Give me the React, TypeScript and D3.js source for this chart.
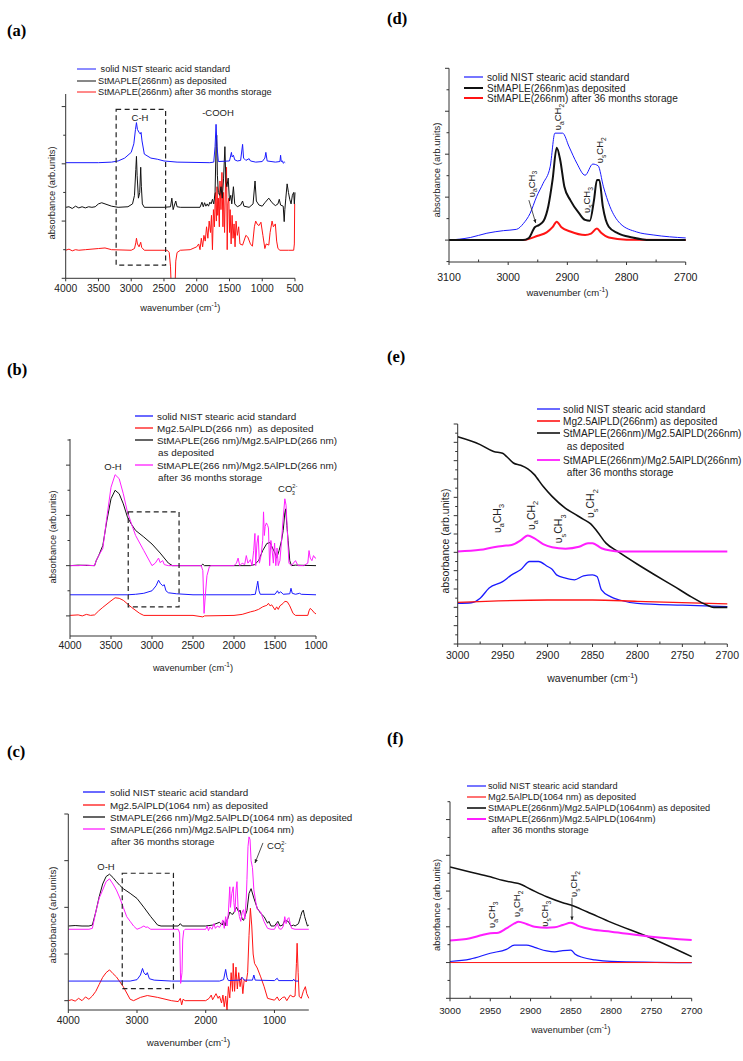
import * as d3 from 'd3';
import type { ReactNode } from 'react';

type Pt = [number, number];

const SANS = "'Liberation Sans', Arial, Helvetica, sans-serif";
const SERIF = "'Liberation Serif', 'Times New Roman', serif";
const BLUE = '#1a1aff';
const RED = '#ff1414';
const BLACK = '#111111';
const MAGENTA = '#ff1eff';

// ---------- panel (a): full range, StMAPLE 266 nm ----------
const aBlue: Pt[] = [
  [4000, 2.02], [3500, 2.02], [3300, 2.03], [3200, 2.05], [3100, 2.1], [3000, 2.2], [2960, 2.35],
  [2935, 2.6], [2920, 2.72], [2905, 2.6], [2880, 2.55], [2860, 2.52], [2850, 2.55], [2835, 2.4],
  [2800, 2.17], [2700, 2.1], [2600, 2.08], [2500, 2.05], [2300, 2.03], [1800, 2.02], [1740, 2.03],
  [1720, 2.3], [1705, 2.69], [1690, 2.3], [1670, 2.04], [1500, 2.05], [1470, 2.2], [1460, 2.12],
  [1440, 2.15], [1420, 2.07], [1380, 2.05], [1330, 2.06], [1300, 2.34], [1285, 2.1], [1250, 2.06],
  [1200, 2.09], [1180, 2.05], [1100, 2.03], [1000, 2.04], [960, 2.1], [945, 2.2], [925, 2.05],
  [800, 2.03], [730, 2.04], [720, 2.15], [710, 2.04], [690, 2.05], [680, 2.01], [660, 2.03], [650, 2.02],
];
const aBlack: Pt[] = [
  [4000, 1.24], [3950, 1.25], [3900, 1.22], [3850, 1.26], [3800, 1.23], [3750, 1.25], [3700, 1.23],
  [3650, 1.25], [3600, 1.24], [3550, 1.25], [3500, 1.3], [3450, 1.32], [3400, 1.3], [3300, 1.26],
  [3200, 1.24], [3050, 1.25], [2980, 1.3], [2950, 1.45], [2930, 1.9], [2920, 2.13], [2910, 1.8],
  [2890, 1.4], [2870, 1.5], [2855, 1.94], [2845, 1.6], [2830, 1.3], [2800, 1.24], [2500, 1.24],
  [2400, 1.25], [2380, 1.4], [2370, 1.3], [2360, 1.2], [2340, 1.28], [2320, 1.35], [2300, 1.25],
  [2250, 1.24], [1950, 1.24], [1920, 1.33], [1900, 1.25], [1880, 1.32], [1860, 1.26], [1840, 1.3],
  [1820, 1.26], [1800, 1.33], [1780, 1.3], [1760, 1.38], [1740, 1.3], [1720, 1.5], [1705, 2.3],
  [1695, 2.5], [1685, 1.8], [1670, 1.5], [1650, 1.45], [1630, 1.6], [1610, 1.4], [1590, 1.75],
  [1570, 2.3], [1555, 1.7], [1540, 1.6], [1520, 1.75], [1500, 1.35], [1480, 1.45], [1465, 1.3],
  [1440, 1.6], [1420, 1.3], [1380, 1.25], [1330, 1.28], [1300, 1.35], [1280, 1.26], [1200, 1.24],
  [1140, 1.3], [1110, 1.7], [1090, 1.35], [1050, 1.28], [1000, 1.26], [960, 1.32], [900, 1.4],
  [850, 1.32], [800, 1.27], [760, 1.3], [740, 1.38], [720, 1.28], [680, 1.26], [665, 0.99],
  [655, 1.2], [640, 1.4], [620, 1.65], [600, 1.5], [580, 1.38], [560, 1.3], [540, 1.45], [520, 1.5],
  [510, 1.3], [500, 1.5],
];
const aRed: Pt[] = [
  [4000, 0.49], [3950, 0.51], [3900, 0.48], [3850, 0.5], [3800, 0.49], [3700, 0.5], [3500, 0.52],
  [3400, 0.53], [3300, 0.5], [3000, 0.49], [2950, 0.52], [2930, 0.62], [2920, 0.7], [2905, 0.6],
  [2880, 0.55], [2855, 0.63], [2840, 0.54], [2800, 0.49], [2450, 0.49], [2420, 0.45], [2400, 0.2],
  [2385, -0.3], [2370, -0.5], [2350, -0.5], [2335, -0.3], [2320, 0.3], [2300, 0.45], [2250, 0.49],
  [2100, 0.5], [2000, 0.55], [1970, 0.6], [1950, 0.5], [1930, 0.7], [1910, 0.55], [1890, 0.75],
  [1870, 0.65], [1850, 0.9], [1830, 0.7], [1810, 1.0], [1790, 0.8], [1775, 1.1], [1760, 0.5],
  [1745, 1.2], [1730, 0.9], [1715, 1.5], [1700, 1.0], [1690, 1.6], [1680, 1.1], [1670, 1.4],
  [1655, 0.9], [1645, 1.7], [1630, 1.2], [1615, 1.85], [1600, 0.9], [1590, 1.5], [1575, 0.8],
  [1560, 1.7], [1545, 1.94], [1535, 0.5], [1525, 1.3], [1510, 1.4], [1500, 0.8], [1490, 1.2],
  [1475, 0.6], [1460, 1.1], [1445, 0.7], [1430, 0.95], [1415, 0.55], [1400, 1.0], [1380, 0.75],
  [1360, 0.9], [1340, 0.6], [1300, 0.58], [1250, 0.75], [1220, 0.72], [1180, 0.6], [1150, 0.56],
  [1120, 0.9], [1100, 1.0], [1080, 0.95], [1050, 0.92], [1020, 0.98], [990, 0.75], [960, 0.52],
  [940, 0.6], [900, 0.58], [880, 0.8], [850, 1.0], [830, 0.9], [800, 0.95], [780, 0.65],
  [760, 0.52], [730, 0.49], [600, 0.49], [520, 0.49], [510, 0.6], [505, 1.3], [500, 1.3],
];

// ---------- panel (b): full range, Mg2.5Al PLD 266 nm ----------
const bBlue: Pt[] = [
  [4000, 0.42], [3300, 0.42], [3200, 0.43], [3100, 0.45], [3000, 0.5], [2950, 0.6], [2920, 0.71],
  [2900, 0.65], [2870, 0.6], [2850, 0.62], [2830, 0.5], [2800, 0.46], [2700, 0.44], [2500, 0.42],
  [1800, 0.42], [1740, 0.43], [1720, 0.6], [1710, 0.69], [1695, 0.5], [1680, 0.43], [1500, 0.43],
  [1470, 0.5], [1455, 0.45], [1430, 0.48], [1400, 0.43], [1320, 0.44], [1305, 0.55], [1290, 0.45],
  [1250, 0.43], [1200, 0.45], [1180, 0.43], [1000, 0.42],
];
const bRed: Pt[] = [
  [4000, 0.01], [3900, 0.02], [3850, 0.0], [3800, 0.03], [3750, 0.01], [3700, 0.02], [3650, 0.1],
  [3600, 0.17], [3500, 0.3], [3450, 0.36], [3400, 0.35], [3350, 0.31], [3250, 0.17], [3150, 0.05],
  [3100, 0.01], [2500, 0.01], [2380, -0.02], [2360, 0.0], [2000, 0.01], [1900, 0.03], [1800, 0.08],
  [1750, 0.1], [1700, 0.13], [1650, 0.18], [1620, 0.2], [1600, 0.21], [1580, 0.25], [1560, 0.2],
  [1540, 0.22], [1500, 0.12], [1480, 0.18], [1460, 0.13], [1440, 0.2], [1400, 0.25], [1380, 0.29],
  [1350, 0.28], [1320, 0.2], [1280, 0.05], [1250, 0.01], [1100, 0.01], [1085, 0.1], [1070, 0.15],
  [1050, 0.12], [1020, 0.06], [1000, 0.04],
];
const bBlack: Pt[] = [
  [4000, 1.0], [3900, 1.01], [3700, 1.0], [3680, 1.1], [3650, 1.2], [3600, 1.4], [3550, 1.9],
  [3500, 2.33], [3450, 2.5], [3400, 2.43], [3350, 2.23], [3300, 1.97], [3250, 1.82], [3200, 1.7],
  [3100, 1.57], [3000, 1.43], [2900, 1.25], [2800, 1.05], [2750, 1.0], [2400, 1.0], [2380, 1.03],
  [2360, 1.0], [1800, 1.0], [1750, 1.02], [1700, 1.1], [1650, 1.3], [1600, 1.44], [1560, 1.46],
  [1530, 1.35], [1500, 1.25], [1480, 1.15], [1450, 1.3], [1420, 1.5], [1400, 1.7], [1380, 2.05],
  [1370, 2.13], [1355, 1.8], [1340, 1.5], [1320, 1.1], [1300, 1.0], [1250, 1.01], [1000, 1.0],
];
const bMagenta: Pt[] = [
  [4000, 1.0], [3900, 1.0], [3800, 1.01], [3700, 1.0], [3680, 1.1], [3650, 1.2], [3600, 1.34],
  [3550, 1.97], [3500, 2.56], [3450, 2.81], [3400, 2.73], [3350, 2.43], [3300, 2.07], [3250, 1.83],
  [3200, 1.6], [3100, 1.3], [3000, 1.0], [2960, 1.05], [2920, 1.15], [2900, 1.06], [2870, 1.1],
  [2850, 1.02], [2800, 1.0], [2400, 1.0], [2380, 0.9], [2365, 0.05], [2350, 0.4], [2330, 0.8],
  [2300, 0.98], [2280, 1.0], [2000, 1.0], [1970, 1.05], [1950, 1.15], [1930, 1.0], [1900, 1.05],
  [1870, 1.02], [1850, 1.2], [1830, 1.05], [1800, 1.12], [1780, 1.0], [1760, 1.3], [1745, 1.64],
  [1735, 1.0], [1720, 1.45], [1705, 1.6], [1690, 1.05], [1670, 1.2], [1650, 1.5], [1640, 2.07],
  [1630, 1.6], [1620, 1.78], [1605, 1.85], [1590, 1.8], [1580, 1.75], [1565, 1.0], [1550, 1.5],
  [1535, 1.3], [1520, 1.05], [1505, 1.45], [1490, 1.0], [1475, 1.35], [1460, 1.0], [1440, 1.1],
  [1420, 1.5], [1400, 1.95], [1380, 2.33], [1365, 2.2], [1350, 1.7], [1330, 1.05], [1300, 1.0],
  [1250, 1.1], [1220, 1.0], [1150, 1.0], [1100, 1.05], [1085, 1.3], [1070, 1.15], [1050, 1.1],
  [1030, 1.2], [1010, 1.15], [1000, 1.15],
];

// ---------- panel (c): full range, Mg2.5Al PLD 1064 nm ----------
const cBlue: Pt[] = [
  [4000, 0.42], [3100, 0.42], [3000, 0.45], [2950, 0.55], [2920, 0.69], [2900, 0.6], [2870, 0.55],
  [2850, 0.6], [2820, 0.47], [2750, 0.44], [2500, 0.42], [1800, 0.42], [1740, 0.45], [1710, 0.67],
  [1690, 0.5], [1670, 0.43], [1500, 0.44], [1470, 0.5], [1440, 0.44], [1320, 0.44], [1300, 0.55],
  [1280, 0.44], [1000, 0.43], [960, 0.48], [940, 0.43], [730, 0.43], [720, 0.46], [700, 0.42], [650, 0.42],
];
const cRed: Pt[] = [
  [4000, 0], [3950, 0.02], [3900, -0.01], [3850, 0.05], [3800, 0.0], [3750, 0.08], [3700, 0.03],
  [3650, 0.1], [3600, 0.2], [3550, 0.35], [3500, 0.5], [3450, 0.6], [3400, 0.66], [3350, 0.58],
  [3300, 0.51], [3200, 0.3], [3100, 0.03], [3050, 0.0], [2950, 0.07], [2850, 0.11], [2700, 0.07],
  [2500, 0.0], [2400, -0.02], [2370, 0.05], [2350, -0.09], [2330, 0.03], [2300, 0.0], [2000, 0.0],
  [1950, 0.05], [1920, 0.12], [1900, 0.02], [1850, 0.15], [1820, 0.05], [1800, 0.1], [1770, -0.05],
  [1750, 0.12], [1730, -0.13], [1710, 0.1], [1690, -0.2], [1670, 0.3], [1650, 0.06], [1630, 0.6],
  [1610, 0.2], [1600, 0.8], [1580, 0.2], [1560, 0.72], [1540, 0.25], [1520, 0.6], [1500, 0.3],
  [1480, 0.5], [1460, 0.15], [1440, 0.45], [1410, 0.4], [1390, 0.6], [1370, 1.4], [1350, 1.98],
  [1330, 1.6], [1310, 1.0], [1290, 0.8], [1250, 0.7], [1200, 0.51], [1150, 0.3], [1100, 0.05],
  [1000, 0.01], [960, 0.08], [930, 0.0], [880, 0.07], [850, 0.08], [820, 0.0], [770, 0.12],
  [730, 0.08], [700, 0.1], [680, 0.8], [670, 1.23], [655, 0.6], [640, 0.09], [610, 0.05],
  [580, 0.2], [550, 0.3], [530, 0.15], [500, 0.05],
];
const cBlack: Pt[] = [
  [4000, 1.6], [3900, 1.61], [3800, 1.6], [3700, 1.6], [3650, 1.62], [3600, 1.9], [3550, 2.23],
  [3500, 2.5], [3450, 2.66], [3400, 2.71], [3350, 2.64], [3300, 2.55], [3250, 2.47], [3200, 2.4],
  [3100, 2.3], [3000, 2.19], [2900, 2.0], [2800, 1.8], [2700, 1.62], [2650, 1.6], [2400, 1.6],
  [2370, 1.65], [2340, 1.6], [2000, 1.6], [1900, 1.62], [1800, 1.68], [1760, 1.62], [1740, 1.7],
  [1720, 1.6], [1700, 1.72], [1680, 1.75], [1650, 1.9], [1620, 1.85], [1600, 1.86], [1570, 1.95],
  [1550, 2.0], [1520, 1.9], [1500, 1.94], [1470, 1.75], [1450, 1.72], [1420, 1.85], [1400, 1.93],
  [1370, 2.3], [1340, 2.4], [1300, 2.2], [1250, 1.98], [1200, 1.87], [1150, 1.8], [1100, 1.66],
  [1080, 1.7], [1050, 1.6], [1000, 1.6], [950, 1.7], [920, 1.6], [880, 1.62], [850, 1.72],
  [800, 1.7], [760, 1.6], [720, 1.62], [700, 1.6], [650, 1.65], [620, 1.8], [600, 1.9], [580, 1.94],
  [560, 1.8], [540, 1.7], [520, 1.6], [500, 1.62],
];
const cMagenta: Pt[] = [
  [4000, 1.53], [3700, 1.53], [3650, 1.55], [3600, 1.9], [3550, 2.2], [3500, 2.37], [3450, 2.55],
  [3400, 2.61], [3350, 2.5], [3300, 2.37], [3250, 2.2], [3200, 2.0], [3150, 1.8], [3100, 1.7],
  [3050, 1.6], [3000, 1.53], [2950, 1.56], [2900, 1.6], [2870, 1.57], [2850, 1.58], [2800, 1.53],
  [2400, 1.53], [2380, 1.45], [2365, 0.37], [2345, 0.6], [2335, 1.3], [2320, 1.5], [2300, 1.53],
  [2000, 1.53], [1980, 1.6], [1960, 1.5], [1940, 1.58], [1910, 1.53], [1880, 1.65], [1860, 1.55],
  [1830, 1.6], [1800, 1.57], [1770, 1.65], [1750, 1.73], [1730, 1.55], [1710, 1.8], [1690, 1.6],
  [1670, 1.9], [1650, 2.44], [1640, 2.0], [1620, 2.3], [1600, 2.44], [1590, 2.1], [1575, 1.9],
  [1560, 2.35], [1545, 2.55], [1530, 2.0], [1510, 1.8], [1490, 1.7], [1470, 1.9], [1450, 1.95],
  [1430, 1.75], [1410, 2.2], [1400, 2.6], [1385, 3.3], [1370, 3.51], [1355, 3.45], [1340, 3.0],
  [1320, 2.85], [1300, 2.38], [1270, 2.1], [1250, 1.96], [1200, 1.9], [1150, 1.69], [1100, 1.55],
  [1050, 1.53], [1000, 1.53], [960, 1.65], [930, 1.54], [900, 1.53], [870, 1.6], [850, 1.8],
  [830, 1.65], [810, 1.75], [790, 1.78], [770, 1.65], [750, 1.55], [700, 1.53], [500, 1.53],
];

// ---------- panel (d): C-H region, StMAPLE 266 nm ----------
const dBlue: Pt[] = [
  [3100, 0], [3064, 0.06], [3036, 0.16], [3008, 0.22], [2986, 0.25], [2974, 0.39], [2963, 0.62],
  [2952, 1.01], [2941, 1.32], [2929, 1.71], [2921, 2.49], [2908, 2.49], [2897, 2.17], [2884, 1.79],
  [2870, 1.51], [2857, 1.77], [2848, 1.73], [2839, 1.24], [2828, 0.78], [2811, 0.39], [2783, 0.19],
  [2755, 0.12], [2700, 0.05],
];
const dBlack: Pt[] = [
  [3100, 0], [2975, 0], [2965, 0.05], [2955, 0.3], [2948, 0.35], [2940, 0.45], [2932, 0.8],
  [2925, 1.4], [2918, 2.15], [2912, 1.86], [2905, 1.24], [2895, 0.93], [2880, 0.62], [2870, 0.47],
  [2862, 0.45], [2855, 0.93], [2850, 1.4], [2846, 1.4], [2840, 0.78], [2830, 0.31], [2815, 0.16],
  [2790, 0.06], [2760, 0], [2700, 0],
];
const dRed: Pt[] = [
  [3100, 0], [2975, 0], [2950, 0.1], [2935, 0.18], [2925, 0.3], [2918, 0.43], [2910, 0.3],
  [2895, 0.2], [2870, 0.12], [2860, 0.15], [2850, 0.27], [2843, 0.17], [2830, 0.06], [2800, 0.01],
  [2700, 0],
];

// ---------- panel (e): C-H region, PLD 266 nm ----------
const eBlue: Pt[] = [
  [3000, 4.44], [2985, 4.5], [2975, 5.0], [2965, 6.1], [2950, 6.8], [2940, 7.54], [2930, 8.1],
  [2920, 9.0], [2910, 9.0], [2900, 8.45], [2895, 8.16], [2890, 7.54], [2880, 7.18], [2870, 7.0],
  [2860, 7.43], [2850, 7.54], [2845, 7.36], [2840, 5.9], [2830, 5.17], [2820, 4.8], [2800, 4.44],
  [2750, 4.23], [2700, 4.08],
];
const eRed: Pt[] = [[3000, 4.55], [2900, 4.8], [2850, 4.8], [2800, 4.66], [2700, 4.37]];
const eBlack: Pt[] = [
  [3000, 22.6], [2975, 21.75], [2960, 21.0], [2950, 20.8], [2945, 20.4], [2938, 19.75], [2930, 19.5],
  [2922, 19.1], [2915, 18.5], [2905, 17.2], [2895, 16.1], [2880, 14.8], [2870, 14.2], [2860, 13.6],
  [2852, 13.1], [2845, 12.3], [2835, 11.0], [2822, 10.1], [2800, 8.7], [2780, 7.5], [2760, 6.34],
  [2740, 5.14], [2723, 4.26], [2715, 4.0], [2700, 4.0],
];
const eMagenta: Pt[] = [
  [3000, 10.1], [2975, 10.27], [2960, 10.56], [2950, 10.7], [2940, 10.8], [2930, 11.3], [2922, 11.84],
  [2915, 11.55], [2905, 10.9], [2895, 10.56], [2880, 10.4], [2865, 10.6], [2855, 11.0], [2850, 11.0],
  [2840, 10.45], [2830, 10.2], [2820, 10.1], [2700, 10.1],
];

// ---------- panel (f): C-H region, PLD 1064 nm ----------
const fBlue: Pt[] = [
  [3000, 0.06], [2975, 0.19], [2950, 0.52], [2930, 0.74], [2920, 0.98], [2905, 0.98], [2895, 0.85],
  [2880, 0.65], [2870, 0.6], [2860, 0.67], [2850, 0.7], [2845, 0.48], [2835, 0.28], [2820, 0.15],
  [2800, 0.07], [2700, 0],
];
const fRed: Pt[] = [[3000, 0], [2700, 0]];
const fBlack: Pt[] = [
  [3000, 5.35], [2975, 5.07], [2950, 4.8], [2935, 4.6], [2920, 4.46], [2915, 4.42], [2900, 4.1],
  [2880, 3.68], [2860, 3.35], [2850, 3.22], [2830, 2.84], [2800, 2.25], [2750, 1.36], [2700, 0.33],
];
const fMagenta: Pt[] = [
  [3000, 1.23], [2975, 1.36], [2960, 1.54], [2950, 1.64], [2940, 1.67], [2930, 1.91], [2920, 2.19],
  [2915, 2.29], [2905, 2.16], [2895, 2.0], [2880, 1.95], [2870, 1.97], [2860, 2.1], [2850, 2.23],
  [2840, 2.04], [2825, 1.86], [2800, 1.73], [2750, 1.45], [2700, 1.26],
];

// ---------- ticks ----------
const ticksFull500 = [4000, 3500, 3000, 2500, 2000, 1500, 1000, 500];
const ticksB = [4000, 3500, 3000, 2500, 2000, 1500, 1000];
const ticksC = [4000, 3000, 2000, 1000];
const ticksD = [3100, 3000, 2900, 2800, 2700];
const minorD = [3050, 2950, 2850, 2750];
const ticksEF = [3000, 2950, 2900, 2850, 2800, 2750, 2700];
const minorEF = [2975, 2925, 2875, 2825, 2775, 2725];

// ---------- legend texts ----------
const legendA = ['solid NIST stearic acid standard', 'StMAPLE(266nm) as deposited', 'StMAPLE(266nm) after 36 months storage'];
const legendB = ['solid NIST stearic acid standard', 'Mg2.5AlPLD(266 nm)  as deposited', 'StMAPLE(266 nm)/Mg2.5AlPLD(266 nm)', 'as deposited', 'StMAPLE(266 nm)/Mg2.5AlPLD(266 nm)', 'after 36 months storage'];
const legendC = ['solid NIST stearic acid standard', 'Mg2.5AlPLD(1064 nm) as deposited', 'StMAPLE(266 nm)/Mg2.5AlPLD(1064 nm) as deposited', 'StMAPLE(266 nm)/Mg2.5AlPLD(1064 nm)', 'after 36 months storage'];
const legendD = ['solid NIST stearic acid standard', 'StMAPLE(266nm)as deposited', 'StMAPLE(266nm) after 36 months storage'];
const legendE = ['solid NIST stearic acid standard', 'Mg2.5AlPLD(266nm) as deposited', 'StMAPLE(266nm)/Mg2.5AlPLD(266nm)', ' as deposited', 'StMAPLE(266nm)/Mg2.5AlPLD(266nm)', ' after 36 months storage'];
const legendF = ['solid NIST stearic acid standard', 'Mg2.5AlPLD(1064 nm) as deposited', 'StMAPLE(266nm)/Mg2.5AlPLD(1064nm) as deposited', 'StMAPLE(266nm)/Mg2.5AlPLD(1064nm)', ' after 36 months storage'];

interface Series { data: Pt[]; color: string; width: number; smooth?: boolean }
interface LegendRow { text: string; color?: string; width?: number }
type Sc = d3.ScaleLinear<number, number>;

interface PanelProps {
  tag: string;
  tagXY: [number, number];
  box: [number, number, number, number]; // left, right, top, bottom
  xDomain: [number, number];
  yDomain: [number, number];
  xTicks: number[];
  xMinor?: number[];
  yMajor: number[];
  yMinor?: number[];
  series: Series[];
  legend: { x0: number; x1: number; tx: number; ys: number[]; size: number; rows: LegendRow[] };
  tickSize: number;
  tickLabelY: number;
  labelSize: number;
  xLabelY: number;
  yLabelXY: [number, number];
  dashed?: [number, number, number, number];
  extra?: (x: Sc, y: Sc) => ReactNode;
}

function Panel(p: PanelProps) {
  const [l, r, t, b] = p.box;
  const x = d3.scaleLinear().domain(p.xDomain).range([l, r]);
  const y = d3.scaleLinear().domain(p.yDomain).range([b, t]);
  const clipId = `clip-${p.tag}`;
  const path = (s: Series) =>
    d3
      .line<Pt>()
      .x((d) => x(d[0]))
      .y((d) => y(d[1]))
      .curve(s.smooth ? d3.curveMonotoneX : d3.curveLinear)(s.data) || '';

  return (
    <g>
      <text x={p.tagXY[0]} y={p.tagXY[1]} fontFamily={SERIF} fontSize={16.5} fontWeight="bold">
        ({p.tag})
      </text>
      <defs>
        <clipPath id={clipId}>
          <rect x={l} y={t - 2} width={r - l + 1} height={b - t + 2} />
        </clipPath>
      </defs>

      {/* spectra */}
      <g clipPath={`url(#${clipId})`} fill="none" strokeLinejoin="round">
        {p.series.map((s, i) => (
          <path key={i} d={path(s)} stroke={s.color} strokeWidth={s.width} />
        ))}
      </g>

      {p.dashed && (
        <rect
          x={x(p.dashed[0])}
          y={y(p.dashed[2])}
          width={x(p.dashed[1]) - x(p.dashed[0])}
          height={y(p.dashed[3]) - y(p.dashed[2])}
          fill="none"
          stroke="#222"
          strokeWidth={1.2}
          strokeDasharray="5,3.5"
        />
      )}

      {/* axes */}
      <g stroke="#333" strokeWidth={1}>
        <line x1={l} x2={l} y1={t} y2={b} />
        <line x1={l} x2={r} y1={b} y2={b} />
        {p.yMajor.map((v) => (
          <line key={`ym${v}`} x1={l - 4} x2={l} y1={y(v)} y2={y(v)} />
        ))}
        {(p.yMinor || []).map((v) => (
          <line key={`yn${v}`} x1={l - 2.5} x2={l} y1={y(v)} y2={y(v)} />
        ))}
        {p.xTicks.map((v) => (
          <line key={`xm${v}`} x1={x(v)} x2={x(v)} y1={b} y2={b + 3} />
        ))}
        {(p.xMinor || []).map((v) => (
          <line key={`xn${v}`} x1={x(v)} x2={x(v)} y1={b} y2={b - 2.5} />
        ))}
      </g>
      <g fontFamily={SANS} fontSize={p.tickSize} fill="#222" textAnchor="middle">
        {p.xTicks.map((v) => (
          <text key={v} x={x(v)} y={p.tickLabelY}>
            {v}
          </text>
        ))}
      </g>
      <text x={(l + r) / 2} y={p.xLabelY} fontFamily={SANS} fontSize={p.labelSize} fill="#222" textAnchor="middle">
        wavenumber (cm
        <tspan dy={-p.labelSize * 0.4} fontSize={p.labelSize * 0.7}>
          -1
        </tspan>
        <tspan dy={p.labelSize * 0.4}>)</tspan>
      </text>
      <text
        transform={`translate(${p.yLabelXY[0]},${p.yLabelXY[1]}) rotate(-90)`}
        fontFamily={SANS}
        fontSize={p.labelSize}
        fill="#222"
        textAnchor="middle"
      >
        absorbance (arb.units)
      </text>

      {/* legend */}
      <g fontFamily={SANS} fontSize={p.legend.size} fill="#222">
        {p.legend.rows.map((row, i) => (
          <g key={i}>
            {row.color && (
              <line
                x1={p.legend.x0}
                x2={p.legend.x1}
                y1={p.legend.ys[i]}
                y2={p.legend.ys[i]}
                stroke={row.color}
                strokeWidth={row.width || 1}
              />
            )}
            <text x={p.legend.tx + (row.color ? 0 : 1)} y={p.legend.ys[i] + p.legend.size * 0.36} style={{ whiteSpace: 'pre' }}>
              {row.text}
            </text>
          </g>
        ))}
      </g>
      {p.extra && p.extra(x, y)}
    </g>
  );
}

// rotated vibration-mode label: υ_a CH_2 etc.
function Mode({ x, y, m, n, size }: { x: number; y: number; m: string; n: string; size: number }) {
  return (
    <text transform={`translate(${x},${y}) rotate(-90)`} fontFamily={SANS} fontSize={size} fill="#222">
      υ
      <tspan dy={size * 0.3} fontSize={size * 0.7}>
        {m}
      </tspan>
      <tspan dy={-size * 0.3}>CH</tspan>
      <tspan dy={size * 0.3} fontSize={size * 0.7}>
        {n}
      </tspan>
    </text>
  );
}

function Carbonate({ x, y, size }: { x: number; y: number; size: number }) {
  return (
    <text x={x} y={y} fontFamily={SANS} fontSize={size} fill="#222">
      CO
      <tspan dy={-size * 0.45} fontSize={size * 0.6}>
        2-
      </tspan>
      <tspan dx={-size * 0.6} dy={size * 0.75} fontSize={size * 0.6}>
        3
      </tspan>
    </text>
  );
}

const arrowHead = (
  <defs>
    <marker id="arr" viewBox="0 0 10 10" refX="9" refY="5" markerWidth="5" markerHeight="5" orient="auto">
      <path d="M0,1 L10,5 L0,9 z" fill="#222" />
    </marker>
  </defs>
);

export default function App() {
  return (
    <svg width={743} height={1061} style={{ position: 'absolute', left: 0, top: 0, background: '#fff' }}>
      {arrowHead}
      <Panel
        tag="a"
        tagXY={[7, 36]}
        box={[65.7, 295, 94, 278.3]}
        xDomain={[4000, 500]}
        yDomain={[0, 3.22]}
        xTicks={ticksFull500}
        yMajor={[0, 1, 2, 3]}
        yMinor={[0.5, 1.5, 2.5]}
        series={[
          { data: aRed, color: RED, width: 1 },
          { data: aBlack, color: BLACK, width: 1 },
          { data: aBlue, color: BLUE, width: 1 },
        ]}
        legend={{
          x0: 77, x1: 96, tx: 98, ys: [69, 81, 92], size: 9.2,
          rows: [
            { text: ' ' + legendA[0], color: BLUE },
            { text: legendA[1], color: BLACK },
            { text: legendA[2], color: RED },
          ],
        }}
        tickSize={10.3}
        tickLabelY={292}
        labelSize={9.3}
        xLabelY={311}
        yLabelXY={[55, 193]}
        dashed={[3230, 2475, 2.95, 0.23]}
        extra={(x, y) => (
          <g fontFamily={SANS} fontSize={9.5} fill="#222" textAnchor="middle">
            <text x={x(2866)} y={y(2.75)}>C-H</text>
            <text x={x(1675)} y={y(2.84)}>-COOH</text>
          </g>
        )}
      />
      <Panel
        tag="b"
        tagXY={[7, 375]}
        box={[70, 316, 439, 636]}
        xDomain={[4000, 1000]}
        yDomain={[-0.4, 3.52]}
        xTicks={ticksB}
        yMajor={[0, 1, 2, 3]}
        yMinor={[0.5, 1.5, 2.5, 3.5]}
        series={[
          { data: bRed, color: RED, width: 1 },
          { data: bBlue, color: BLUE, width: 1 },
          { data: bBlack, color: BLACK, width: 1 },
          { data: bMagenta, color: MAGENTA, width: 1 },
        ]}
        legend={{
          x0: 135, x1: 153, tx: 157, ys: [416, 428, 440, 452, 465, 477], size: 9.9,
          rows: [
            { text: legendB[0], color: BLUE, width: 1.3 },
            { text: legendB[1], color: RED, width: 1.3 },
            { text: legendB[2], color: BLACK, width: 1.3 },
            { text: legendB[3] },
            { text: legendB[4], color: MAGENTA, width: 1.3 },
            { text: legendB[5] },
          ],
        }}
        tickSize={10.4}
        tickLabelY={649}
        labelSize={9.3}
        xLabelY={671}
        yLabelXY={[56, 537]}
        dashed={[3290, 2670, 2.07, 0.18]}
        extra={(x, y) => (
          <g>
            <text x={x(3476)} y={y(2.9)} fontFamily={SANS} fontSize={9.5} fill="#222" textAnchor="middle">
              O-H
            </text>
            <Carbonate x={x(1463)} y={y(2.46)} size={9.5} />
          </g>
        )}
      />
      <Panel
        tag="c"
        tagXY={[7, 757]}
        box={[68.3, 308.8, 814, 1010]}
        xDomain={[4000, 500]}
        yDomain={[-0.2, 4.0]}
        xTicks={ticksC}
        yMajor={[0, 1, 2, 3, 4]}
        series={[
          { data: cRed, color: RED, width: 1 },
          { data: cBlue, color: BLUE, width: 1 },
          { data: cBlack, color: BLACK, width: 1 },
          { data: cMagenta, color: MAGENTA, width: 1 },
        ]}
        legend={{
          x0: 83, x1: 105, tx: 110, ys: [792, 805, 817, 829, 841], size: 9.8,
          rows: [
            { text: legendC[0], color: BLUE, width: 1.3 },
            { text: legendC[1], color: RED, width: 1.3 },
            { text: legendC[2], color: BLACK, width: 1.3 },
            { text: legendC[3], color: MAGENTA, width: 1.3 },
            { text: legendC[4] },
          ],
        }}
        tickSize={10.4}
        tickLabelY={1024}
        labelSize={9.7}
        xLabelY={1046}
        yLabelXY={[56, 915]}
        dashed={[3215, 2470, 2.73, 0.26]}
        extra={(x, y) => (
          <g>
            <text x={x(3451)} y={y(2.8)} fontFamily={SANS} fontSize={9.5} fill="#222" textAnchor="middle">
              O-H
            </text>
            <Carbonate x={x(1108)} y={y(3.25)} size={9.5} />
            <line x1={x(1167)} y1={y(3.38)} x2={x(1283)} y2={y(2.95)} stroke="#222" strokeWidth={0.8} markerEnd="url(#arr)" />
          </g>
        )}
      />
      <Panel
        tag="d"
        tagXY={[387, 24]}
        box={[449, 685.7, 68.3, 262]}
        xDomain={[3100, 2700]}
        yDomain={[-0.51, 4.0]}
        xTicks={ticksD}
        xMinor={minorD}
        yMajor={[0, 1, 2, 3, 4]}
        yMinor={[-0.5, 0.5, 1.5, 2.5, 3.5]}
        series={[
          { data: dBlue, color: BLUE, width: 1, smooth: true },
          { data: dRed, color: RED, width: 2, smooth: true },
          { data: dBlack, color: BLACK, width: 2, smooth: true },
        ]}
        legend={{
          x0: 464, x1: 483, tx: 487, ys: [77, 88, 98], size: 10.1,
          rows: [
            { text: legendD[0], color: BLUE, width: 1.2 },
            { text: legendD[1], color: BLACK, width: 2 },
            { text: legendD[2], color: RED, width: 2 },
          ],
        }}
        tickSize={10.6}
        tickLabelY={281}
        labelSize={9.5}
        xLabelY={296}
        yLabelXY={[440, 170]}
        extra={(x, y) => (
          <g>
            <Mode x={x(2910)} y={y(2.56)} m="a" n="2" size={9.5} />
            <Mode x={x(2839)} y={y(1.79)} m="s" n="2" size={9.5} />
            <Mode x={x(2955.5)} y={y(1.0)} m="a" n="3" size={9.5} />
            <Mode x={x(2862)} y={y(0.63)} m="s" n="3" size={9.5} />
            <line x1={x(2965)} y1={y(0.93)} x2={x(2953.5)} y2={y(0.4)} stroke="#222" strokeWidth={0.8} markerEnd="url(#arr)" />
          </g>
        )}
      />
      <Panel
        tag="e"
        tagXY={[387, 362]}
        box={[457.7, 727.3, 424, 644]}
        xDomain={[3000, 2700]}
        yDomain={[0, 24]}
        xTicks={ticksEF}
        xMinor={minorEF}
        yMajor={d3.range(0, 25, 2)}
        yMinor={d3.range(1, 24, 2)}
        series={[
          { data: eBlue, color: BLUE, width: 1.3, smooth: true },
          { data: eRed, color: RED, width: 1.3, smooth: true },
          { data: eBlack, color: BLACK, width: 1.6, smooth: true },
          { data: eMagenta, color: MAGENTA, width: 2, smooth: true },
        ]}
        legend={{
          x0: 537, x1: 560, tx: 563, ys: [409, 421, 433, 446, 460, 472], size: 10.1,
          rows: [
            { text: legendE[0], color: BLUE, width: 1.3 },
            { text: legendE[1], color: RED, width: 1.6 },
            { text: legendE[2], color: BLACK, width: 1.6 },
            { text: legendE[3] },
            { text: legendE[4], color: MAGENTA, width: 1.8 },
            { text: legendE[5] },
          ],
        }}
        tickSize={10.5}
        tickLabelY={659}
        labelSize={10.5}
        xLabelY={682}
        yLabelXY={[449, 541]}
        extra={(x, y) => (
          <g>
            <Mode x={x(2952)} y={y(12.1)} m="a" n="3" size={10.5} />
            <Mode x={x(2914.5)} y={y(12.44)} m="a" n="2" size={10.5} />
            <Mode x={x(2883.4)} y={y(11.0)} m="s" n="3" size={10.5} />
            <Mode x={x(2847.8)} y={y(13.75)} m="s" n="2" size={10.5} />
          </g>
        )}
      />
      <Panel
        tag="f"
        tagXY={[387, 744]}
        box={[450, 691.7, 801.7, 998.3]}
        xDomain={[3000, 2700]}
        yDomain={[-2, 9]}
        xTicks={ticksEF}
        xMinor={minorEF}
        yMajor={[-2, 0, 2, 4, 6, 8]}
        yMinor={[-1, 1, 3, 5, 7, 9]}
        series={[
          { data: fBlue, color: BLUE, width: 1.2, smooth: true },
          { data: fRed, color: RED, width: 1, smooth: true },
          { data: fBlack, color: BLACK, width: 1.5, smooth: true },
          { data: fMagenta, color: MAGENTA, width: 2, smooth: true },
        ]}
        legend={{
          x0: 467, x1: 486, tx: 488, ys: [786, 797, 808, 819, 830], size: 9.2,
          rows: [
            { text: legendF[0], color: BLUE, width: 1.2 },
            { text: legendF[1], color: RED, width: 1.2 },
            { text: legendF[2], color: BLACK, width: 1.6 },
            { text: legendF[3], color: MAGENTA, width: 2 },
            { text: legendF[4] },
          ],
        }}
        tickSize={9.7}
        tickLabelY={1014}
        labelSize={9.2}
        xLabelY={1033}
        yLabelXY={[440, 905]}
        extra={(x, y) => (
          <g>
            <Mode x={x(2944)} y={y(1.94)} m="a" n="3" size={9.5} />
            <Mode x={x(2913)} y={y(2.55)} m="a" n="2" size={9.5} />
            <Mode x={x(2878)} y={y(2.0)} m="s" n="3" size={9.5} />
            <Mode x={x(2842)} y={y(3.67)} m="s" n="2" size={9.5} />
            <line x1={x(2848.6)} y1={y(3.62)} x2={x(2848.6)} y2={y(2.38)} stroke="#222" strokeWidth={0.8} markerEnd="url(#arr)" />
          </g>
        )}
      />
    </svg>
  );
}
